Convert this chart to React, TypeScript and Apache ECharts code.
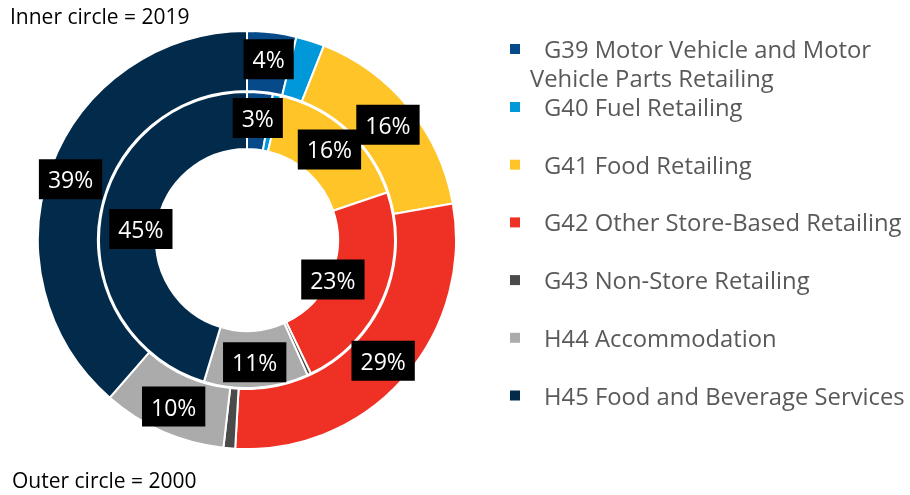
import React, { useEffect, useRef } from "react";
import * as echarts from "echarts";

const categories = [
  "G39 Motor Vehicle and Motor Vehicle Parts Retailing",
  "G40 Fuel Retailing",
  "G41 Food Retailing",
  "G42 Other Store-Based Retailing",
  "G43 Non-Store Retailing",
  "H44 Accommodation",
  "H45 Food and Beverage Services",
];
const colors = ["#074A89", "#0098D8", "#FFC428", "#EE3124", "#4A4A4A", "#ABABAB", "#022B4B"];
// Outer circle = 2000 (percent shares)
const values2000 = [3.8, 2.2, 16.2, 28.7, 0.9, 9.6, 38.6];
// Inner circle = 2019 (percent shares)
const values2019 = [2.8, 0.9, 16.1, 23.1, 0.4, 11.4, 45.3];
// segments that carry a label
const labelled2000 = [true, false, true, true, false, true, true];
const labelled2019 = [true, false, true, true, false, true, true];

const FONT = "Open Sans";

// small manual label nudges (style), per series index -> data index
const labelNudge: Record<number, Record<number, [number, number]>> = {
  0: { 6: [-6, 3] },
  1: { 3: [-27, -8], 6: [15, 7] },
};

export default function App() {
  const ref = useRef<HTMLDivElement>(null);
  useEffect(() => {
    if (!ref.current) return;
    const chart = echarts.init(ref.current, undefined, { renderer: "svg" });
    const labelStyle = {
      position: "inside",
      formatter: (p: any) => Math.round(p.percent) + "%",
      color: "#fff",
      backgroundColor: "#000",
      fontFamily: FONT,
      fontSize: 23,
      lineHeight: 28,
      padding: [6, 9],
    };
    const mk = (vals: number[], lab: boolean[]) =>
      vals.map((v, i) => ({
        name: categories[i],
        value: v,
        itemStyle: { color: colors[i] },
        label: { show: lab[i] },
      }));
    const layoutFn = (p: any) => {
      const n = (labelNudge[p.seriesIndex] || {})[p.dataIndex];
      return n ? { dx: n[0], dy: n[1], hideOverlap: false } : { hideOverlap: false };
    };
    const FS = 23.8;
    chart.setOption({
      animation: false,
      title: [
        {
          text: "Inner circle = 2019",
          left: 10,
          top: 5,
          padding: 0,
          textStyle: { fontFamily: FONT, fontSize: 21, fontWeight: "normal", color: "#000" },
        },
        {
          text: "Outer circle = 2000",
          left: 12,
          top: 469,
          padding: 0,
          textStyle: { fontFamily: FONT, fontSize: 21, fontWeight: "normal", color: "#000" },
        },
      ],
      legend: [
        {
          data: [categories[0]],
          orient: "vertical",
          left: 510,
          top: 5.5,
          padding: 0,
          icon: "rect",
          itemWidth: 10,
          itemHeight: 10,
          itemStyle: { borderWidth: 0 },
          selectedMode: false,
          formatter: () => "\n{ind|}G39 Motor Vehicle and Motor\n{ind2|}Vehicle Parts Retailing",
          textStyle: {
            fontFamily: FONT,
            fontSize: FS,
            lineHeight: 29,
            color: "#595959",
            rich: {
              ind: { width: 19, fontSize: FS, lineHeight: 29 },
              ind2: { width: 5, fontSize: FS, lineHeight: 29 },
            },
          },
        },
        {
          data: categories.slice(1),
          orient: "vertical",
          left: 510,
          top: 95,
          padding: 0,
          icon: "rect",
          itemWidth: 10,
          itemHeight: 10,
          itemGap: 33.7,
          itemStyle: { borderWidth: 0 },
          selectedMode: false,
          formatter: (name: string) => "{ind|}" + name,
          textStyle: {
            fontFamily: FONT,
            fontSize: FS,
            lineHeight: 24,
            color: "#595959",
            rich: { ind: { width: 19, fontSize: FS, lineHeight: 24 } },
          },
        },
      ],
      series: [
        {
          name: "2000",
          type: "pie",
          center: [247, 240],
          radius: [149, 209],
          startAngle: 90,
          clockwise: true,
          avoidLabelOverlap: false,
          itemStyle: { borderColor: "#fff", borderWidth: 2 },
          label: labelStyle,
          labelLine: { show: false },
          labelLayout: layoutFn,
          emphasis: { disabled: true },
          data: mk(values2000, labelled2000),
        },
        {
          name: "2019",
          type: "pie",
          center: [247, 240],
          radius: [91, 148],
          startAngle: 90,
          clockwise: true,
          avoidLabelOverlap: false,
          itemStyle: { borderColor: "#fff", borderWidth: 2 },
          label: labelStyle,
          labelLine: { show: false },
          labelLayout: layoutFn,
          emphasis: { disabled: true },
          data: mk(values2019, labelled2019),
        },
      ],
    });
    return () => chart.dispose();
  }, []);
  return (
    <div
      ref={ref}
      style={{ position: "fixed", left: 0, top: 0, width: 910, height: 495 }}
    />
  );
}
